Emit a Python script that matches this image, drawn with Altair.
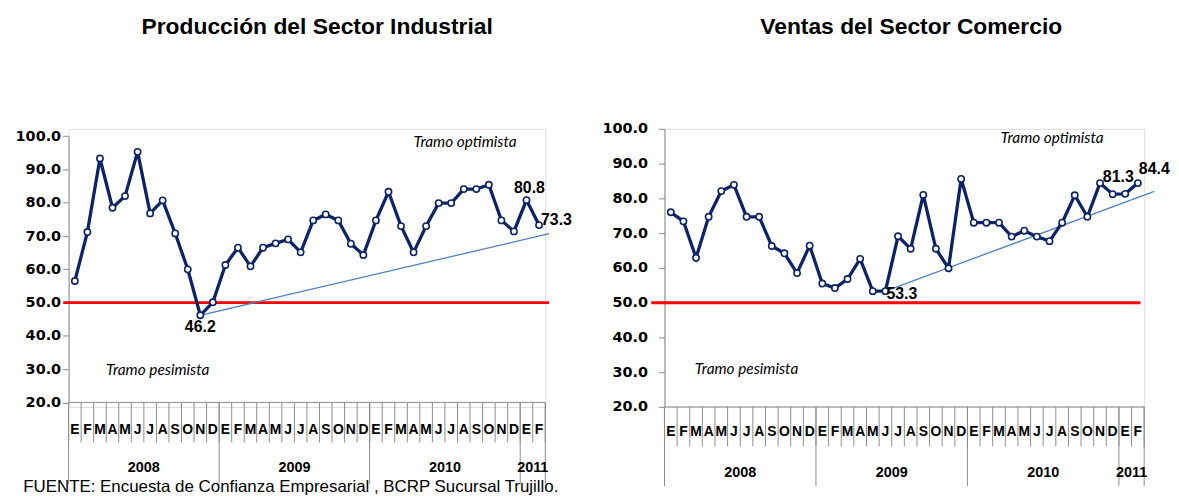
import altair as alt
import pandas as pd

# ---------------- data ----------------
meses = ["E", "F", "M", "A", "M", "J", "J", "A", "S", "O", "N", "D"] * 3 + ["E", "F"]
anios = ["2008", "2009", "2010", "2011"]
anio_centro = [5.5, 17.5, 29.5, 36.5]
anio_limites = [-0.5, 11.5, 23.5, 35.5, 37.5]
ticks_y = [20, 30, 40, 50, 60, 70, 80, 90, 100]

industria = [56.5, 71.2, 93.3, 78.5, 82.0, 95.3, 76.8, 80.7, 70.8, 60.0, 46.2, 50.1,
             61.3, 66.5, 60.9, 66.5, 67.8, 69.0, 65.1, 74.7, 76.5, 74.7, 67.7, 64.3,
             74.7, 83.3, 73.0, 65.1, 73.0, 79.9, 79.9, 84.1, 84.1, 85.4, 74.7, 71.4,
             80.8, 73.3]
comercio = [76.0, 73.4, 62.9, 74.7, 82.1, 83.9, 74.7, 74.7, 66.3, 64.2, 58.5, 66.4,
            55.5, 54.2, 56.8, 62.6, 53.3, 53.3, 69.1, 65.5, 81.0, 65.5, 59.9, 85.6,
            73.0, 73.0, 73.0, 69.0, 70.7, 69.0, 67.7, 73.0, 80.9, 74.7, 84.4, 81.2,
            81.3, 84.4]

# labelled points: (index, text, dx, dy, align)
ind_etiquetas = [(10, "46.2", 0, 12, "center"), (36, "80.8", 3, -12, "center"),
                 (37, "73.3", 2, -5, "left")]
com_etiquetas = [(17, "53.3", 1, 3, "left"), (36, "81.3", -7, -17, "center"),
                 (37, "84.4", 1, -14, "left")]

# trend lines (index, value)
ind_tendencia_i = [10, 37.8]
ind_tendencia_v = [46.2, 70.7]
com_tendencia_i = [17, 38.3]
com_tendencia_v = [53.3, 82.0]

# text annotations (index, value)
ind_optimista = (31.1, 98.1)
ind_pesimista = (6.6, 29.8)
com_optimista = (30.2, 97.3)
com_pesimista = (6.0, 30.9)

NAVY = "#0c2465"
TREND = "#4f81bd"
GRAY = "#8c8c8c"
ARIAL = "Liberation Sans"


def panel(values, etiquetas, tend_i, tend_v, opt, pes, titulo, title_x,
          y_range, red_span, axis_pad, width, rows, footer=False):
    x_enc = alt.X("i:Q", scale=alt.Scale(domain=[-0.5, 37.5], nice=False, zero=False), axis=None)
    y_enc = alt.Y("v:Q",
                  scale=alt.Scale(domain=[20, 100], range=y_range, nice=False, zero=False),
                  axis=alt.Axis(values=ticks_y, tickCount=9, format=".1f",
                                grid=False, domainColor=GRAY, tickColor=GRAY, tickSize=6,
                                labelOverlap=False,
                                labelPadding=axis_pad, labelFont="DejaVu Sans",
                                labelFontWeight="bold", labelFontSize=14.5, labelColor="black",
                                title=None))
    df = pd.DataFrame({"i": list(range(len(values))), "v": values, "m": meses})
    axis_bottom, tick_end, letter_y, year_end, year_y = rows

    red = alt.Chart(pd.DataFrame({"i": [red_span[0]], "i2": [red_span[1]], "v": [50]})).mark_rule(
        color="#ff0000", strokeWidth=3).encode(x=x_enc, x2="i2:Q", y=y_enc)
    trend = alt.Chart(pd.DataFrame({"i": tend_i, "v": tend_v})).mark_line(
        color=TREND, strokeWidth=1.3).encode(x=x_enc, y=y_enc)
    line = alt.Chart(df).mark_line(color=NAVY, strokeWidth=3.3).encode(x=x_enc, y=y_enc)
    pts = alt.Chart(df).mark_point(shape="circle", filled=True, fill="white", stroke=NAVY,
                                   strokeWidth=1.6, size=40, opacity=1).encode(x=x_enc, y=y_enc)
    layers = [red, trend, line, pts]

    for idx, txt, dx, dy, al in etiquetas:
        layers.append(alt.Chart(pd.DataFrame({"i": [idx], "v": [values[idx]], "t": [txt]})).mark_text(
            font=ARIAL, fontWeight="bold", fontSize=16, color="black", dx=dx, dy=dy,
            align=al, baseline="middle").encode(x=x_enc, y=y_enc, text="t:N"))

    ann = pd.DataFrame({"i": [opt[0], pes[0]], "v": [opt[1], pes[1]],
                        "t": ["Tramo optimista", "Tramo pesimista"]})
    layers.append(alt.Chart(ann).mark_text(font="Lato", fontStyle="italic", fontSize=15.5,
                                           color="black", baseline="middle").encode(
        x=x_enc, y=y_enc, text="t:N"))

    # x axis line
    layers.append(alt.Chart(pd.DataFrame({"i": [-0.5], "i2": [37.5], "v": [20]})).mark_rule(
        color=GRAY, strokeWidth=1).encode(x=x_enc, x2="i2:Q", y=y_enc))
    # month boundary ticks
    bnd = pd.DataFrame({"i": [k - 0.5 for k in range(39)]})
    layers.append(alt.Chart(bnd).mark_rule(color=GRAY, strokeWidth=1).encode(
        x=x_enc, y=alt.value(axis_bottom), y2=alt.value(tick_end)))
    # year boundary lines
    layers.append(alt.Chart(pd.DataFrame({"i": anio_limites})).mark_rule(
        color=GRAY, strokeWidth=1).encode(x=x_enc, y=alt.value(axis_bottom), y2=alt.value(year_end)))
    # month letters
    layers.append(alt.Chart(df).mark_text(font=ARIAL, fontWeight="bold", fontSize=14,
                                          color="black", baseline="middle").encode(
        x=x_enc, y=alt.value(letter_y), text="m:N"))
    # year labels
    layers.append(alt.Chart(pd.DataFrame({"i": anio_centro, "t": anios})).mark_text(
        font=ARIAL, fontWeight="bold", fontSize=14.5, color="black", baseline="middle").encode(
        x=x_enc, y=alt.value(year_y), text="t:N"))
    # title
    layers.append(alt.Chart(pd.DataFrame({"t": [titulo]})).mark_text(
        font=ARIAL, fontWeight="bold", fontSize=23, color="black", baseline="alphabetic").encode(
        x=alt.value(title_x), y=alt.value(-95.3), text="t:N"))
    if footer:
        layers.append(alt.Chart(pd.DataFrame({"t": ["FUENTE: Encuesta de Confianza Empresarial , BCRP Sucursal Trujillo."]})).mark_text(
            font=ARIAL, fontSize=17, color="black", align="left", baseline="alphabetic").encode(
            x=alt.value(-45.7), y=alt.value(365.2), text="t:N"))

    return alt.layer(*layers).properties(width=width, height=280)


left = panel(industria, ind_etiquetas, ind_tendencia_i, ind_tendencia_v, ind_optimista,
             ind_pesimista, "Producción del Sector Industrial", 250.3,
             [275.5, 7.4], (-0.93, 37.8), 2, 480,
             (275.5, 315.7, 303.7, 357.7, 342.0), footer=True)
right = panel(comercio, com_etiquetas, com_tendencia_i, com_tendencia_v, com_optimista,
              com_pesimista, "Ventas del Sector Comercio", 248.4,
              [280, 0], (-1.55, 37.2), 11, 483,
              (280, 319.7, 305.7, 359.7, 346.5))

chart = alt.hconcat(left, right, spacing=120, bounds="flush").properties(
    padding={"left": 6, "top": 6, "right": 0, "bottom": 0}
).configure_view(stroke=None).configure(background="white")

chart.save("out.html", embed_options={"renderer": "svg", "actions": False})
